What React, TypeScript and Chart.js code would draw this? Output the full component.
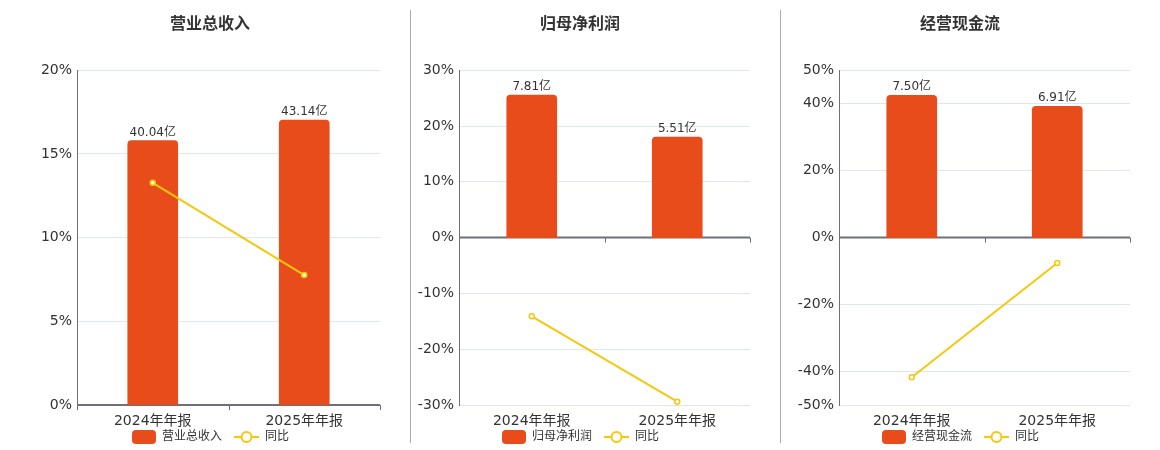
import { useEffect, useRef } from "react";
import { Chart, registerables } from "chart.js";

Chart.register(...registerables);

const FONT = '"DejaVu Sans", "Noto Sans CJK SC", sans-serif';
const BAR_COLOR = "#E84C1B";
const LINE_COLOR = "#F5C80C";
const AXIS_COLOR = "#6e7079";
const GRID_COLOR = "#e0e6f1";
const TEXT_COLOR = "#333";

const periods = ["2024年年报", "2025年年报"];

// 金额（亿）
const revenue = [40.04, 43.14];
const netProfit = [7.81, 5.51];
const cashFlow = [7.5, 6.91];

// 同比（%）
const revenueYoy = [13.27, 7.76];
const netProfitYoy = [-14.1, -29.4];
const cashFlowYoy = [-41.7, -7.6];

// 左轴刻度
const revenueTicks = [0, 5, 10, 15, 20];
const netProfitTicks = [-30, -20, -10, 0, 10, 20, 30];
const cashFlowTicks = [-50, -40, -20, 0, 20, 40, 50];

// 金额所用的隐藏轴范围
const revenueRange = [0, 50.7];
const netProfitRange = [-9.17, 9.17];
const cashFlowRange = [-8.82, 8.82];

const ICON_PAD = 10;

// legend icons, right-aligned in a wider box so the gap between items looks like the original
function makeIcon(kind: "bar" | "line") {
  const c = document.createElement("canvas");
  c.width = 25 + ICON_PAD;
  c.height = 14;
  const ctx = c.getContext("2d")!;
  if (kind === "bar") {
    ctx.fillStyle = BAR_COLOR;
    ctx.beginPath();
    ctx.roundRect(ICON_PAD + 1, 0, 24, 14, 4);
    ctx.fill();
  } else {
    ctx.strokeStyle = LINE_COLOR;
    ctx.lineWidth = 2;
    ctx.beginPath();
    ctx.moveTo(ICON_PAD, 7);
    ctx.lineTo(ICON_PAD + 25, 7);
    ctx.stroke();
    ctx.beginPath();
    ctx.arc(ICON_PAD + 12.5, 7, 5, 0, Math.PI * 2);
    ctx.fillStyle = "#fff";
    ctx.fill();
    ctx.stroke();
  }
  return c;
}

const zeroAxis = {
  id: "zeroAxis",
  afterLayout(chart: any) {
    // cancel the visual offset of the blank left of the first legend icon
    if (chart.legend) {
      chart.legend.left -= ICON_PAD / 2;
      chart.legend.right -= ICON_PAD / 2;
    }
  },
  beforeDatasetsDraw(chart: any) {
    const { ctx } = chart;
    const x = chart.scales.x;
    const y0 = chart.scales.y.getPixelForValue(0);
    const n = chart.data.labels.length;
    ctx.save();
    ctx.strokeStyle = AXIS_COLOR;
    ctx.lineWidth = 2;
    ctx.beginPath();
    ctx.moveTo(x.left, y0);
    ctx.lineTo(x.right, y0);
    ctx.stroke();
    ctx.lineWidth = 1;
    ctx.beginPath();
    for (let i = 0; i <= n; i++) {
      const px = Math.round(x.left + (i * x.width) / n) + 0.5;
      ctx.moveTo(px, y0);
      ctx.lineTo(px, y0 + 5);
    }
    ctx.stroke();
    ctx.restore();
  },
};

const barLabels = {
  id: "barLabels",
  afterDatasetsDraw(chart: any) {
    const { ctx } = chart;
    const meta = chart.getDatasetMeta(0);
    const values = chart.data.datasets[0].data as number[];
    ctx.save();
    ctx.font = `12px ${FONT}`;
    ctx.fillStyle = TEXT_COLOR;
    ctx.textAlign = "center";
    ctx.textBaseline = "alphabetic";
    meta.data.forEach((el: any, i: number) => {
      ctx.fillText(values[i].toFixed(2) + "亿", el.x, el.y - 5);
    });
    ctx.restore();
  },
};

type PanelProps = {
  title: string;
  amounts: number[];
  yoy: number[];
  ticks: number[];
  range: number[];
  left: number;
  width: number;
  axisWidth: number;
  rightWidth: number;
};

function Panel({ title, amounts, yoy, ticks, range, left, width, axisWidth, rightWidth }: PanelProps) {
  const canvasRef = useRef<HTMLCanvasElement>(null);

  useEffect(() => {
    if (!canvasRef.current) return;
    const icons = [makeIcon("bar"), makeIcon("line")];
    const chart = new Chart(canvasRef.current, {
      type: "bar",
      data: {
        labels: periods,
        datasets: [
          {
            type: "bar",
            label: title,
            data: amounts,
            yAxisID: "y1",
            backgroundColor: BAR_COLOR,
            barThickness: 50,
            borderRadius: { topLeft: 4, topRight: 4, bottomLeft: 0, bottomRight: 0 },
            borderSkipped: false,
            order: 1,
          },
          {
            type: "line",
            label: "同比",
            data: yoy,
            yAxisID: "y",
            borderColor: LINE_COLOR,
            borderWidth: 2,
            pointRadius: 2.5,
            pointBorderWidth: 1.5,
            pointBackgroundColor: "#fff",
            pointBorderColor: LINE_COLOR,
            order: 0,
          },
        ],
      } as any,
      options: {
        animation: false,
        responsive: true,
        maintainAspectRatio: false,
        layout: { padding: { top: 0, left: 0, right: 0, bottom: -3 } },
        font: { family: FONT },
        plugins: {
          title: {
            display: true,
            text: title,
            color: TEXT_COLOR,
            font: { family: FONT, size: 16, weight: "bold" },
            padding: { top: 15, bottom: 36 },
          },
          legend: {
            position: "bottom",
            labels: {
              usePointStyle: true,
              pointStyleWidth: 25 + ICON_PAD,
              padding: 2,
              color: TEXT_COLOR,
              font: { family: FONT, size: 12 },
              generateLabels: (c: any) =>
                c.data.datasets.map((ds: any, i: number) => ({
                  text: ds.label,
                  pointStyle: icons[i],
                  fillStyle: "transparent",
                  strokeStyle: "transparent",
                  lineWidth: 0,
                  fontColor: TEXT_COLOR,
                  hidden: false,
                  datasetIndex: i,
                })),
            },
          },
          tooltip: { enabled: false },
        },
        scales: {
          x: {
            type: "category",
            grid: { display: false, drawTicks: false },
            border: { display: false },
            ticks: { color: TEXT_COLOR, font: { family: FONT, size: 14 }, padding: 8 },
            afterFit: (s: any) => {
              s.height = 24;
            },
          },
          y: {
            type: "linear",
            position: "left",
            min: ticks[0],
            max: ticks[ticks.length - 1],
            afterBuildTicks: (s: any) => {
              s.ticks = ticks.map((v) => ({ value: v }));
            },
            afterFit: (s: any) => {
              s.width = axisWidth;
            },
            grid: {
              drawTicks: false,
              color: (c: any) => (c.tick && c.tick.value === 0 ? "rgba(0,0,0,0)" : GRID_COLOR),
            },
            border: { display: true, color: AXIS_COLOR, width: 1 },
            ticks: {
              color: TEXT_COLOR,
              font: { family: FONT, size: 14 },
              padding: 5,
              callback: (v: any) => `${v}%`,
            },
          },
          y1: {
            type: "linear",
            position: "right",
            min: range[0],
            max: range[1],
            grid: { display: false, drawTicks: false },
            border: { display: false },
            ticks: { display: false },
            afterFit: (s: any) => {
              s.width = rightWidth;
            },
          },
        },
      } as any,
      plugins: [zeroAxis, barLabels],
    });
    return () => chart.destroy();
  }, []);

  return (
    <div style={{ position: "absolute", left, top: 0, width, height: 450 }}>
      <canvas ref={canvasRef} />
    </div>
  );
}

function Divider({ left }: { left: number }) {
  return <div style={{ position: "absolute", left, top: 10, width: 1, height: 433, background: "#aaa" }} />;
}

export default function App() {
  return (
    <div style={{ position: "absolute", left: 0, top: 0, width: 1160, height: 450, background: "#fff", overflow: "hidden" }}>
      <Panel title="营业总收入" amounts={revenue} yoy={revenueYoy} ticks={revenueTicks} range={revenueRange}
        left={10} width={400} axisWidth={67} rightWidth={30} />
      <Panel title="归母净利润" amounts={netProfit} yoy={netProfitYoy} ticks={netProfitTicks} range={netProfitRange}
        left={396} width={368} axisWidth={63} rightWidth={14} />
      <Panel title="经营现金流" amounts={cashFlow} yoy={cashFlowYoy} ticks={cashFlowTicks} range={cashFlowRange}
        left={776} width={368} axisWidth={63} rightWidth={14} />
      <Divider left={410} />
      <Divider left={780} />
    </div>
  );
}
